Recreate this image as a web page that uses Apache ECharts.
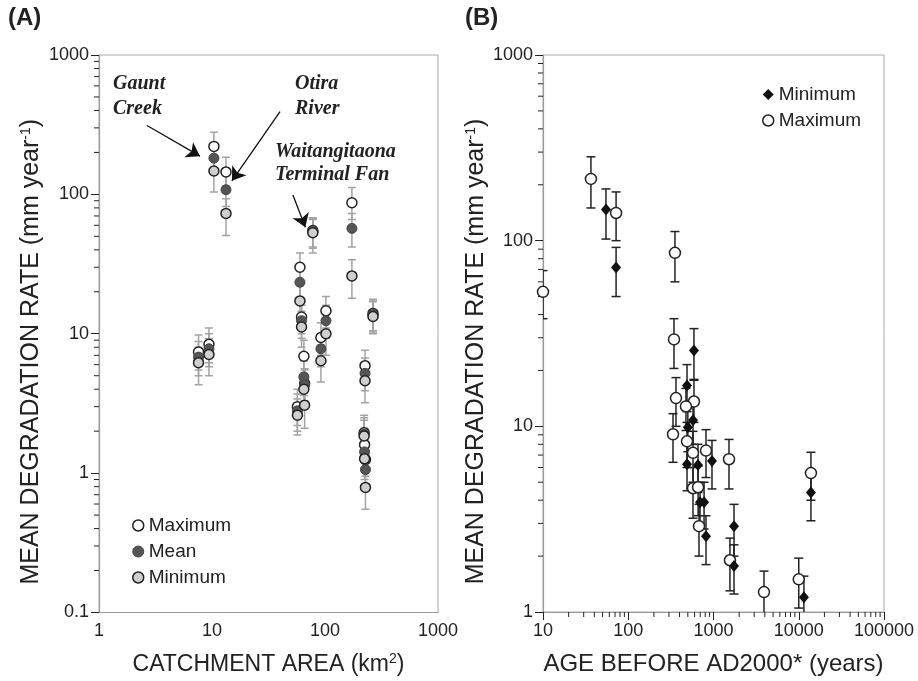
<!DOCTYPE html>
<html>
<head>
<meta charset="utf-8">
<title>Mean degradation rate</title>
<script src="https://cdn.jsdelivr.net/npm/echarts@6/dist/echarts.min.js"></script>
<style>
html, body { margin: 0; padding: 0; background: #fff; }
#chart { width: 918px; height: 681px; }
</style>
</head>
<body>
<div id="chart"></div>
<script>
// (A) catchment area (km2) vs rate, one entry per site
const areaKm2  = [7.6, 9.4, 10.4, 13.3, 57, 60, 62, 65, 66, 78, 92, 102, 173, 222, 224, 226, 228, 266];
const maxRate  = [7.4, 8.4, 221, 145, 3.0, 30, 13.2, 6.9, 4.4, 55, 9.4, 14.6, 87, 1.95, 1.6, 5.9, 1.25, 14];
const maxLo    = [5.5, 6.2, 175, 115, 2.2, 23, 10, 5.0, 3.3, 42, 7, 11, 66, 1.45, 1.2, 4.5, 0.95, 10.5];
const maxHi    = [9.8, 11, 279, 185, 4.0, 38, 17, 9.0, 5.6, 68, 12, 18.5, 112, 2.6, 2.1, 7.6, 1.6, 17.7];
const meanRate = [6.8, 7.8, 182, 108, 2.8, 23.4, 12.4, 4.9, 4.3, 54, 7.8, 12.4, 57, 1.9, 1.42, 5.2, 1.06, 13.7];
const meanLo   = [5.0, 5.8, 140, 82, 2.0, 17.5, 9.3, 3.6, 3.2, 41, 5.8, 9.3, 42, 1.4, 1.05, 3.9, 0.78, 10.3];
const meanHi   = [8.8, 10, 230, 140, 3.7, 30, 16, 6.4, 5.5, 67, 10, 16, 73, 2.5, 1.85, 6.7, 1.4, 17.5];
const minRate  = [6.2, 7.1, 147, 73, 2.6, 17.2, 11.2, 4.0, 3.07, 53, 6.4, 10, 26, 1.85, 1.27, 4.6, 0.79, 13.3];
const minLo    = [4.3, 5.0, 104, 50.7, 1.88, 12.5, 8, 2.9, 2.1, 38, 4.5, 7, 18, 1.35, 0.9, 3.2, 0.55, 10];
const minHi    = [8.0, 9.2, 185, 93, 3.4, 22, 14.5, 5.2, 4.0, 66, 8.3, 13, 34, 2.4, 1.65, 6.0, 1.03, 17];

// (B) age before AD2000 (years) vs rate
const maxAge   = [10, 36.5, 72, 353, 344, 363, 590, 475, 335, 489, 575, 817, 1520, 575, 660, 676, 1560, 3910, 10000, 13900];
const maxRateB = [53, 215, 141, 86, 29.4, 14.2, 13.6, 12.8, 9.06, 8.3, 7.2, 7.4, 6.65, 4.64, 4.7, 2.9, 1.9, 1.28, 1.5, 5.6];
const maxLoB   = [38, 150, 100, 60, 20.5, 10, 10.5, 9.5, 6.4, 6, 5, 5.3, 4.6, 3.2, 3.3, 2.0, 1.3, 0.95, 1.05, 4];
const maxHiB   = [69, 283, 183, 112, 38, 18.3, 17.9, 16, 11.7, 10.5, 9.4, 9.6, 8.5, 6, 6.1, 3.8, 2.5, 1.66, 1.95, 7.25];
const minAge   = [54.8, 72, 590, 489, 575, 500, 960, 489, 658, 695, 775, 817, 1740, 1740, 11500, 13900];
const minRateB = [147, 71.6, 25.6, 16.6, 10.8, 9.9, 6.5, 6.25, 6.2, 3.9, 3.9, 2.56, 2.9, 1.77, 1.2, 4.4];
const minLoB   = [102, 50, 17.7, 12, 8, 7.3, 4.6, 4.5, 4.4, 2.8, 2.8, 1.8, 2.0, 1.25, 0.85, 3.1];
const minHiB   = [190, 92, 33.6, 21.5, 13.5, 12.5, 8.4, 8, 8, 5, 5, 3.3, 3.8, 2.3, 1.56, 5.7];

const FONT = '"Liberation Sans", Arial, sans-serif';
const INK = '#222';

function pts(xs, ys) { return xs.map((x, i) => [x, ys[i]]); }
function bars(xs, lo, hi) { return xs.map((x, i) => [x, lo[i], hi[i]]); }

function minorValues(fromExp, toExp) {
  const out = [];
  for (let e = fromExp; e < toExp; e++) {
    for (let m = 2; m <= 9; m++) out.push(+(m * Math.pow(10, e)).toPrecision(3));
  }
  return out;
}

function errItem(cap, color) {
  return function (params, api) {
    const x = api.value(0);
    const lo = api.coord([x, api.value(1)]);
    const hi = api.coord([x, api.value(2)]);
    const s = { stroke: color, lineWidth: 1.5 };
    return {
      type: 'group',
      children: [
        { type: 'line', shape: { x1: lo[0], y1: lo[1], x2: hi[0], y2: hi[1] }, style: s },
        { type: 'line', shape: { x1: hi[0] - cap, y1: hi[1], x2: hi[0] + cap, y2: hi[1] }, style: s },
        { type: 'line', shape: { x1: lo[0] - cap, y1: lo[1], x2: lo[0] + cap, y2: lo[1] }, style: s }
      ]
    };
  };
}

function tickItem(dir) {
  return function (params, api) {
    const p = api.coord([api.value(0), api.value(1)]);
    const shape = dir === 'y'
      ? { x1: p[0] - 5, y1: p[1], x2: p[0], y2: p[1] }
      : { x1: p[0], y1: p[1], x2: p[0], y2: p[1] + 5 };
    return { type: 'line', shape: shape, style: { stroke: INK, lineWidth: 1 } };
  };
}

function logLabel(v) {
  return v >= 1 ? String(Math.round(v)) : String(+v.toPrecision(2));
}

function logAxis(grid, min, max, name, gap, rotate, size, pad) {
  return {
    type: 'log', logBase: 10, gridIndex: grid, min: min, max: max,
    name: name, nameLocation: 'middle', nameGap: gap, nameRotate: rotate,
    nameTextStyle: {
      fontSize: size, color: INK, fontFamily: FONT, padding: pad,
      rich: { sup: { fontSize: 14, color: INK, fontFamily: FONT, verticalAlign: 'top', lineHeight: 24 } }
    },
    axisLine: { show: true, lineStyle: { color: '#9a9a9a', width: 1.2 } },
    axisTick: { show: true, length: 8, inside: false, lineStyle: { color: INK, width: 1 } },
    axisLabel: { fontSize: 18, color: INK, fontFamily: FONT, margin: 10, formatter: logLabel },
    splitLine: { show: false },
    minorTick: { show: false }
  };
}

const xA = logAxis(0, 1, 1000, 'CATCHMENT AREA (km{sup|2})', 40, 0, 23, 0);
xA.axisTick.show = false;
const yA = logAxis(0, 0.1, 1000, 'MEAN DEGRADATION RATE (mm year{sup|-1})', 55, 90, 25, [0, 36, 0, 0]);
const xB = logAxis(1, 10, 100000, 'AGE BEFORE AD2000* (years)', 40, 0, 24, 0);
const yB = logAxis(1, 1, 1000, 'MEAN DEGRADATION RATE (mm year{sup|-1})', 52, 90, 25, [0, 36, 0, 0]);

const myChart = echarts.init(document.getElementById('chart'));
myChart.setOption({
  animation: false,
  textStyle: { fontFamily: FONT },
  grid: [
    { left: 99, right: 480, top: 55, bottom: 67, show: true, borderColor: '#aaa', borderWidth: 1 },
    { left: 543, right: 34, top: 55, bottom: 68, show: true, borderColor: '#aaa', borderWidth: 1 }
  ],
  xAxis: [xA, xB],
  yAxis: [yA, yB],
  legend: [
    {
      orient: 'vertical', left: 127, top: 511, itemGap: 7, itemWidth: 11, itemHeight: 11,
      textStyle: { fontSize: 19, color: INK, fontFamily: FONT },
      selectedMode: false,
      data: [
        { name: 'Maximum', icon: 'circle', itemStyle: { color: '#fff', borderColor: INK, borderWidth: 1.5 } },
        { name: 'Mean', icon: 'circle', itemStyle: { color: '#555', borderColor: '#444', borderWidth: 1 } },
        { name: 'Minimum', icon: 'circle', itemStyle: { color: '#cfcfcf', borderColor: INK, borderWidth: 1.5 } }
      ]
    },
    {
      orient: 'vertical', left: 757, top: 80, itemGap: 7, itemWidth: 11, itemHeight: 11,
      textStyle: { fontSize: 19, color: INK, fontFamily: FONT },
      selectedMode: false,
      data: [
        { name: 'Minimum', icon: 'diamond', itemStyle: { color: '#111', borderColor: '#111', borderWidth: 0 } },
        { name: 'Maximum', icon: 'circle', itemStyle: { color: '#fff', borderColor: INK, borderWidth: 1.5 } }
      ]
    }
  ],
  graphic: [
    { type: 'text', left: 8, top: 6, style: { text: '(A)', font: 'bold 24px "Liberation Sans"', fill: INK } },
    { type: 'text', left: 465, top: 6, style: { text: '(B)', font: 'bold 24px "Liberation Sans"', fill: INK } },
    { type: 'text', left: 113, top: 71, style: { text: 'Gaunt\nCreek', font: 'italic bold 20px "Liberation Serif"', fill: INK, lineHeight: 25 } },
    { type: 'text', left: 295, top: 71, style: { text: 'Otira\nRiver', font: 'italic bold 20px "Liberation Serif"', fill: INK, lineHeight: 25 } },
    { type: 'text', left: 275, top: 140, style: { text: 'Waitangitaona\nTerminal Fan', font: 'italic bold 20px "Liberation Serif"', fill: INK, lineHeight: 23 } }
  ],
  series: [
    // minor ticks
    { type: 'custom', xAxisIndex: 0, yAxisIndex: 0, silent: true, clip: false, renderItem: tickItem('y'),
      data: minorValues(-1, 3).map(v => [1, v]), encode: { x: 0, y: 1 } },
    { type: 'custom', xAxisIndex: 1, yAxisIndex: 1, silent: true, clip: false, renderItem: tickItem('y'),
      data: minorValues(0, 3).map(v => [10, v]), encode: { x: 0, y: 1 } },
    { type: 'custom', xAxisIndex: 1, yAxisIndex: 1, silent: true, clip: false, renderItem: tickItem('x'),
      data: minorValues(1, 5).map(v => [v, 1]), encode: { x: 0, y: 1 } },
    // error bars
    { type: 'custom', name: 'errA', xAxisIndex: 0, yAxisIndex: 0, silent: true, clip: true, z: 2,
      renderItem: errItem(4, '#a3a3a3'), encode: { x: 0, y: [1, 2] },
      data: bars(areaKm2, maxLo, maxHi).concat(bars(areaKm2, meanLo, meanHi), bars(areaKm2, minLo, minHi)) },
    { type: 'custom', name: 'errB', xAxisIndex: 1, yAxisIndex: 1, silent: true, clip: true, z: 2,
      renderItem: errItem(4.5, INK), encode: { x: 0, y: [1, 2] },
      data: bars(maxAge, maxLoB, maxHiB).concat(bars(minAge, minLoB, minHiB)) },
    // panel A points
    { name: 'Maximum', type: 'scatter', xAxisIndex: 0, yAxisIndex: 0, z: 3,
      symbol: 'circle', symbolSize: 10, data: pts(areaKm2, maxRate),
      itemStyle: { color: '#fff', borderColor: INK, borderWidth: 1.5, opacity: 1 },
      markLine: {
        silent: true, symbol: ['none', 'arrow'], symbolSize: 13,
        label: { show: false },
        lineStyle: { color: '#111', width: 1.3, type: 'solid' },
        data: [
          [{ coord: [2.66, 312] }, { coord: [7.83, 188] }],
          [{ coord: [40, 393] }, { coord: [15, 125] }],
          [{ coord: [52, 99] }, { coord: [67, 58] }]
        ]
      } },
    { name: 'Mean', type: 'scatter', xAxisIndex: 0, yAxisIndex: 0, z: 4,
      symbol: 'circle', symbolSize: 10, data: pts(areaKm2, meanRate),
      itemStyle: { color: '#555', borderColor: '#444', borderWidth: 1, opacity: 1 } },
    { name: 'Minimum', type: 'scatter', xAxisIndex: 0, yAxisIndex: 0, z: 5,
      symbol: 'circle', symbolSize: 10, data: pts(areaKm2, minRate),
      itemStyle: { color: '#cfcfcf', borderColor: INK, borderWidth: 1.5, opacity: 1 } },
    // panel B points
    { name: 'Maximum', type: 'scatter', xAxisIndex: 1, yAxisIndex: 1, z: 4,
      symbol: 'circle', symbolSize: 11, data: pts(maxAge, maxRateB),
      itemStyle: { color: '#fff', borderColor: INK, borderWidth: 1.5, opacity: 1 } },
    { name: 'Minimum', type: 'scatter', xAxisIndex: 1, yAxisIndex: 1, z: 5,
      symbol: 'diamond', symbolSize: [10, 12], data: pts(minAge, minRateB),
      itemStyle: { color: '#111', opacity: 1 } }
  ]
});
</script>
</body>
</html>
